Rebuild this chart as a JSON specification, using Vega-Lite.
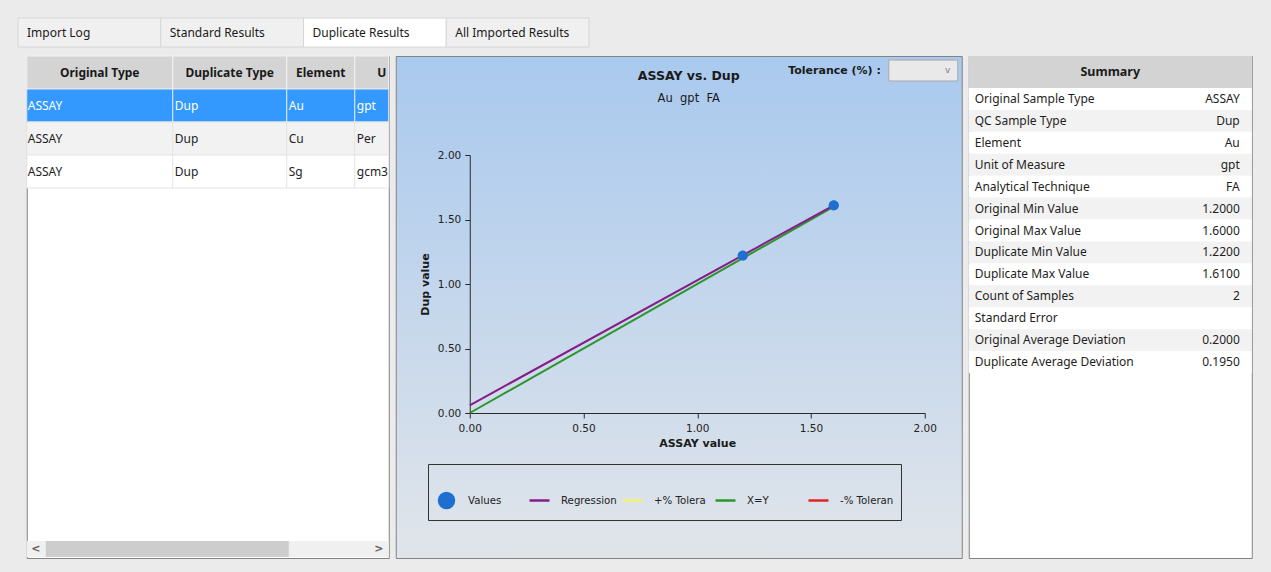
{
  "$schema": "https://vega.github.io/schema/vega-lite/v6.json",
  "background": "#ebebeb",
  "padding": {"left": 17, "top": 17, "right": 11, "bottom": 14},
  "center": true,
  "spacing": 7,
  "config": {"view": {"stroke": null}},
  "datasets": {
    "tabs": [
      {"tab": "Import Log"},
      {"tab": "Standard Results"},
      {"tab": "Duplicate Results"},
      {"tab": "All Imported Results"}
    ],
    "cells": [
      {"row": 0, "col": "Original Type", "text": "Original Type"},
      {"row": 0, "col": "Duplicate Type", "text": "Duplicate Type"},
      {"row": 0, "col": "Element", "text": "Element"},
      {"row": 0, "col": "Unit", "text": "U"},
      {"row": 1, "col": "Original Type", "text": "ASSAY"},
      {"row": 1, "col": "Duplicate Type", "text": "Dup"},
      {"row": 1, "col": "Element", "text": "Au"},
      {"row": 1, "col": "Unit", "text": "gpt"},
      {"row": 2, "col": "Original Type", "text": "ASSAY"},
      {"row": 2, "col": "Duplicate Type", "text": "Dup"},
      {"row": 2, "col": "Element", "text": "Cu"},
      {"row": 2, "col": "Unit", "text": "Per"},
      {"row": 3, "col": "Original Type", "text": "ASSAY"},
      {"row": 3, "col": "Duplicate Type", "text": "Dup"},
      {"row": 3, "col": "Element", "text": "Sg"},
      {"row": 3, "col": "Unit", "text": "gcm3"}
    ],
    "points": [
      {"series": "Values", "x": 1.2, "y": 1.22},
      {"series": "Values", "x": 1.6, "y": 1.61}
    ],
    "lines": [
      {"series": "X=Y", "x": 0, "y": 0},
      {"series": "X=Y", "x": 1.6, "y": 1.6},
      {"series": "Regression", "x": 0, "y": 0.06},
      {"series": "Regression", "x": 1.6, "y": 1.61}
    ],
    "summary": [
      {"label": "Original Sample Type", "value": "ASSAY"},
      {"label": "QC Sample Type", "value": "Dup"},
      {"label": "Element", "value": "Au"},
      {"label": "Unit of Measure", "value": "gpt"},
      {"label": "Analytical Technique", "value": "FA"},
      {"label": "Original Min Value", "value": "1.2000"},
      {"label": "Original Max Value", "value": "1.6000"},
      {"label": "Duplicate Min Value", "value": "1.2200"},
      {"label": "Duplicate Max Value", "value": "1.6100"},
      {"label": "Count of Samples", "value": "2"},
      {"label": "Standard Error", "value": ""},
      {"label": "Original Average Deviation", "value": "0.2000"},
      {"label": "Duplicate Average Deviation", "value": "0.1950"}
    ]
  },
  "vconcat": [
    {
      "width": 1243,
      "height": 29,
      "data": {"name": "tabs"},
      "encoding": {
        "x": {"field": "tab", "type": "nominal", "sort": null, "axis": null,
              "scale": {"range": [0, 571], "paddingInner": 0, "paddingOuter": 0}}
      },
      "layer": [
        {
          "mark": {"type": "rect", "stroke": "#d6d6d6", "strokeWidth": 1},
          "encoding": {
            "fill": {"condition": {"test": "datum.tab === 'Duplicate Results'", "value": "#ffffff"}, "value": "#f0f0f0"}
          }
        },
        {
          "mark": {"type": "text", "align": "left", "dx": 9, "font": "Noto Sans", "fontSize": 12, "color": "#1a1a1a"},
          "encoding": {
            "x": {"field": "tab", "type": "nominal", "sort": null, "axis": null, "bandPosition": 0,
                  "scale": {"range": [0, 571], "paddingInner": 0, "paddingOuter": 0}},
            "text": {"field": "tab"}
          }
        }
      ]
    },
    {
      "spacing": 5,
      "hconcat": [
        {
          "width": 362,
          "height": 502,
          "view": {"stroke": "#828282", "fill": "#ffffff"},
          "layer": [
            {
              "data": {"name": "cells"},
              "transform": [{"filter": "datum.col === 'Original Type'"}],
              "encoding": {
                "x": {"field": "col", "type": "nominal", "axis": null, "scale": {"range": [0, 146], "paddingInner": 0, "paddingOuter": 0}},
                "y": {"field": "row", "type": "ordinal", "axis": null, "scale": {"range": [0, 132], "paddingInner": 0, "paddingOuter": 0}}
              },
              "layer": [
                {
                  "mark": {"type": "rect", "strokeWidth": 1},
                  "encoding": {
                    "fill": {"condition": [{"test": "datum.row === 0", "value": "#d4d4d4"}, {"test": "datum.row === 1", "value": "#3399ff"}, {"test": "datum.row === 2", "value": "#f2f2f2"}], "value": "#ffffff"},
                    "stroke": {"condition": {"test": "datum.row === 0", "value": "#f2f2f2"}, "value": "#e6e6e6"}
                  }
                },
                {
                  "transform": [{"filter": "datum.row > 0"}],
                  "mark": {"type": "text", "align": "left", "dx": 1, "font": "Noto Sans", "fontSize": 12, "clip": true},
                  "encoding": {
                    "x": {"field": "col", "type": "nominal", "axis": null, "bandPosition": 0, "scale": {"range": [0, 146], "paddingInner": 0, "paddingOuter": 0}},
                    "text": {"field": "text"},
                    "color": {"condition": {"test": "datum.row === 1", "value": "#ffffff"}, "value": "#1e1e1e"}
                  }
                },
                {
                  "transform": [{"filter": "datum.row === 0"}],
                  "mark": {"type": "text", "font": "Noto Sans", "fontSize": 12, "fontWeight": "bold", "color": "#1a1a1a"},
                  "encoding": {"text": {"field": "text"}}
                }
              ]
            },
            {
              "data": {"name": "cells"},
              "transform": [{"filter": "datum.col === 'Duplicate Type'"}],
              "encoding": {
                "x": {"field": "col", "type": "nominal", "axis": null, "scale": {"range": [146, 260], "paddingInner": 0, "paddingOuter": 0}},
                "y": {"field": "row", "type": "ordinal", "axis": null, "scale": {"range": [0, 132], "paddingInner": 0, "paddingOuter": 0}}
              },
              "layer": [
                {
                  "mark": {"type": "rect", "strokeWidth": 1},
                  "encoding": {
                    "fill": {"condition": [{"test": "datum.row === 0", "value": "#d4d4d4"}, {"test": "datum.row === 1", "value": "#3399ff"}, {"test": "datum.row === 2", "value": "#f2f2f2"}], "value": "#ffffff"},
                    "stroke": {"condition": {"test": "datum.row === 0", "value": "#f2f2f2"}, "value": "#e6e6e6"}
                  }
                },
                {
                  "transform": [{"filter": "datum.row > 0"}],
                  "mark": {"type": "text", "align": "left", "dx": 2, "font": "Noto Sans", "fontSize": 12, "clip": true},
                  "encoding": {
                    "x": {"field": "col", "type": "nominal", "axis": null, "bandPosition": 0, "scale": {"range": [146, 260], "paddingInner": 0, "paddingOuter": 0}},
                    "text": {"field": "text"},
                    "color": {"condition": {"test": "datum.row === 1", "value": "#ffffff"}, "value": "#1e1e1e"}
                  }
                },
                {
                  "transform": [{"filter": "datum.row === 0"}],
                  "mark": {"type": "text", "font": "Noto Sans", "fontSize": 12, "fontWeight": "bold", "color": "#1a1a1a"},
                  "encoding": {"text": {"field": "text"}}
                }
              ]
            },
            {
              "data": {"name": "cells"},
              "transform": [{"filter": "datum.col === 'Element'"}],
              "encoding": {
                "x": {"field": "col", "type": "nominal", "axis": null, "scale": {"range": [260, 328], "paddingInner": 0, "paddingOuter": 0}},
                "y": {"field": "row", "type": "ordinal", "axis": null, "scale": {"range": [0, 132], "paddingInner": 0, "paddingOuter": 0}}
              },
              "layer": [
                {
                  "mark": {"type": "rect", "strokeWidth": 1},
                  "encoding": {
                    "fill": {"condition": [{"test": "datum.row === 0", "value": "#d4d4d4"}, {"test": "datum.row === 1", "value": "#3399ff"}, {"test": "datum.row === 2", "value": "#f2f2f2"}], "value": "#ffffff"},
                    "stroke": {"condition": {"test": "datum.row === 0", "value": "#f2f2f2"}, "value": "#e6e6e6"}
                  }
                },
                {
                  "transform": [{"filter": "datum.row > 0"}],
                  "mark": {"type": "text", "align": "left", "dx": 2, "font": "Noto Sans", "fontSize": 12, "clip": true},
                  "encoding": {
                    "x": {"field": "col", "type": "nominal", "axis": null, "bandPosition": 0, "scale": {"range": [260, 328], "paddingInner": 0, "paddingOuter": 0}},
                    "text": {"field": "text"},
                    "color": {"condition": {"test": "datum.row === 1", "value": "#ffffff"}, "value": "#1e1e1e"}
                  }
                },
                {
                  "transform": [{"filter": "datum.row === 0"}],
                  "mark": {"type": "text", "font": "Noto Sans", "fontSize": 12, "fontWeight": "bold", "color": "#1a1a1a"},
                  "encoding": {"text": {"field": "text"}}
                }
              ]
            },
            {
              "data": {"name": "cells"},
              "transform": [{"filter": "datum.col === 'Unit'"}],
              "encoding": {
                "x": {"field": "col", "type": "nominal", "axis": null, "scale": {"range": [328, 362], "paddingInner": 0, "paddingOuter": 0}},
                "y": {"field": "row", "type": "ordinal", "axis": null, "scale": {"range": [0, 132], "paddingInner": 0, "paddingOuter": 0}}
              },
              "layer": [
                {
                  "mark": {"type": "rect", "strokeWidth": 1},
                  "encoding": {
                    "fill": {"condition": [{"test": "datum.row === 0", "value": "#d4d4d4"}, {"test": "datum.row === 1", "value": "#3399ff"}, {"test": "datum.row === 2", "value": "#f2f2f2"}], "value": "#ffffff"},
                    "stroke": {"condition": {"test": "datum.row === 0", "value": "#f2f2f2"}, "value": "#e6e6e6"}
                  }
                },
                {
                  "transform": [{"filter": "datum.row > 0"}],
                  "mark": {"type": "text", "align": "left", "dx": 2, "font": "Noto Sans", "fontSize": 12, "clip": true},
                  "encoding": {
                    "x": {"field": "col", "type": "nominal", "axis": null, "bandPosition": 0, "scale": {"range": [328, 362], "paddingInner": 0, "paddingOuter": 0}},
                    "text": {"field": "text"},
                    "color": {"condition": {"test": "datum.row === 1", "value": "#ffffff"}, "value": "#1e1e1e"}
                  }
                },
                {
                  "transform": [{"filter": "datum.row === 0"}],
                  "mark": {"type": "text", "font": "Noto Sans", "fontSize": 12, "fontWeight": "bold", "color": "#1a1a1a", "dx": 10},
                  "encoding": {"text": {"field": "text"}}
                }
              ]
            },
            {
              "data": {"values": [{"visibleFrom": 0, "visibleTo": 0.75, "left": "<", "right": ">"}]},
              "encoding": {
                "y": {"datum": "scroll", "type": "nominal", "axis": null, "scale": {"range": [485, 501], "paddingInner": 0, "paddingOuter": 0}}
              },
              "layer": [
                {"mark": {"type": "rect", "fill": "#f0f0f0"}},
                {
                  "mark": {"type": "rect", "fill": "#cdcdcd"},
                  "encoding": {
                    "x": {"field": "visibleFrom", "type": "quantitative", "axis": null, "scale": {"domain": [0, 1], "range": [19, 343]}},
                    "x2": {"field": "visibleTo"}
                  }
                },
                {
                  "mark": {"type": "text", "dx": -10, "font": "DejaVu Sans", "fontSize": 11, "fontWeight": "bold", "color": "#606060"},
                  "encoding": {
                    "x": {"datum": 0, "type": "quantitative"},
                    "text": {"field": "left"}
                  }
                },
                {
                  "mark": {"type": "text", "dx": 9, "font": "DejaVu Sans", "fontSize": 11, "fontWeight": "bold", "color": "#606060"},
                  "encoding": {
                    "x": {"datum": 1, "type": "quantitative"},
                    "text": {"field": "right"}
                  }
                }
              ]
            }
          ],
          "resolve": {"scale": {"x": "independent", "y": "independent"}}
        },
        {
          "width": 566,
          "height": 502,
          "view": {
            "stroke": "#828282",
            "fill": {"gradient": "linear", "x1": 0, "y1": 0, "x2": 0, "y2": 1,
                     "stops": [{"offset": 0, "color": "#a9c9ee"}, {"offset": 1, "color": "#e1e5ea"}]}
          },
          "title": {
            "text": "ASSAY vs. Dup",
            "subtitle": "Au\u00a0\u00a0gpt\u00a0\u00a0FA",
            "anchor": "middle",
            "frame": "group",
            "offset": -48,
            "dx": 10,
            "font": "DejaVu Sans",
            "fontSize": 12.5,
            "fontWeight": "bold",
            "color": "#1a1a1a",
            "subtitleFont": "DejaVu Sans",
            "subtitleFontSize": 11.5,
            "subtitleColor": "#1a1a1a",
            "subtitlePadding": 10
          },
          "layer": [
            {
              "data": {"values": [{"label": "Tolerance (%) :"}]},
              "mark": {"type": "text", "align": "right", "baseline": "middle", "font": "DejaVu Sans", "fontSize": 11, "fontWeight": "bold", "color": "#1a1a1a"},
              "encoding": {
                "x": {"datum": 1.807, "type": "quantitative", "scale": {"domain": [0, 2], "range": [74, 529]}},
                "y": {"datum": 2.651, "type": "quantitative", "scale": {"domain": [0, 2], "range": [357, 99]}},
                "text": {"field": "label"}
              }
            },
            {
              "data": {"values": [{"chevron": "v"}]},
              "layer": [
                {
                  "mark": {"type": "rect", "fill": "#e9e9e9", "stroke": "#a9a9a9", "strokeWidth": 1},
                  "encoding": {
                    "x": {"datum": 1.842, "type": "quantitative"},
                    "x2": {"datum": 2.145},
                    "y": {"datum": 2.736, "type": "quantitative"},
                    "y2": {"datum": 2.574}
                  }
                },
                {
                  "mark": {"type": "text", "baseline": "middle", "font": "DejaVu Sans", "fontSize": 9, "color": "#808080"},
                  "encoding": {
                    "x": {"datum": 2.101, "type": "quantitative"},
                    "y": {"datum": 2.659, "type": "quantitative"},
                    "text": {"field": "chevron"}
                  }
                }
              ]
            },
            {
              "data": {"name": "lines"},
              "mark": {"type": "line", "strokeWidth": 2},
              "encoding": {
                "x": {
                  "field": "x", "type": "quantitative",
                  "scale": {"domain": [0, 2], "range": [74, 529]},
                  "axis": {
                    "title": "ASSAY value", "values": [0, 0.5, 1, 1.5, 2], "format": ".2f",
                    "offset": -145, "grid": false,
                    "domainColor": "#2b2b2b", "tickColor": "#2b2b2b", "tickSize": 5,
                    "labelFont": "DejaVu Sans", "labelFontSize": 10.5, "labelColor": "#222222", "labelPadding": 5,
                    "labelFlush": false, "labelOverlap": false,
                    "titleFont": "DejaVu Sans", "titleFontSize": 11, "titleFontWeight": "bold", "titleColor": "#1a1a1a", "titlePadding": 4
                  }
                },
                "y": {
                  "field": "y", "type": "quantitative",
                  "scale": {"domain": [0, 2], "range": [357, 99]},
                  "axis": {
                    "title": "Dup value", "values": [0, 0.5, 1, 1.5, 2], "format": ".2f",
                    "offset": -74, "grid": false,
                    "domainColor": "#2b2b2b", "tickColor": "#2b2b2b", "tickSize": 5,
                    "labelFont": "DejaVu Sans", "labelFontSize": 10.5, "labelColor": "#222222", "labelPadding": 4,
                    "labelFlush": false, "labelOverlap": false,
                    "titleFont": "DejaVu Sans", "titleFontSize": 11, "titleFontWeight": "bold", "titleColor": "#1a1a1a", "titlePadding": 7
                  }
                },
                "stroke": {
                  "field": "series", "type": "nominal", "legend": null,
                  "scale": {"domain": ["Regression", "+% Tolera", "X=Y", "-% Toleran"], "range": ["#861c86", "#f3f36a", "#2a962a", "#e52222"]}
                },
                "detail": {"field": "series"}
              }
            },
            {
              "data": {"name": "points"},
              "mark": {"type": "point", "filled": true, "size": 190, "opacity": 1},
              "encoding": {
                "x": {"field": "x", "type": "quantitative"},
                "y": {"field": "y", "type": "quantitative"},
                "color": {
                  "field": "series", "type": "nominal",
                  "scale": {"domain": ["Values", "Regression", "+% Tolera", "X=Y", "-% Toleran"],
                            "range": ["#1f6fd1", "#861c86", "#f3f36a", "#2a962a", "#e52222"]},
                  "legend": {
                    "orient": "none", "legendX": 410, "legendY": 446,
                    "direction": "horizontal", "columns": 5, "gridAlign": "all",
                    "title": " ", "titleFontSize": 13, "titlePadding": 5,
                    "padding": 7, "strokeColor": "#333333",
                    "labelFont": "DejaVu Sans", "labelFontSize": 10.2, "labelColor": "#222222",
                    "labelOffset": 10, "columnPadding": 0,
                    "symbolSize": 400, "symbolStrokeWidth": 2.5, "symbolOpacity": 1,
                    "encode": {
                      "symbols": {
                        "update": {
                          "stroke": {"scale": "color", "field": "value"},
                          "strokeWidth": {"value": 2.5}
                        }
                      }
                    }
                  }
                },
                "shape": {
                  "field": "series", "type": "nominal",
                  "scale": {"domain": ["Values", "Regression", "+% Tolera", "X=Y", "-% Toleran"],
                            "range": [
                              "M0,-0.75A0.75,0.75 0 1,1 0,0.75A0.75,0.75 0 1,1 0,-0.75Z",
                              "M-1,0H1M0,-0.75L0,-0.75M0,0.75L0,0.75",
                              "M-1,0H1M0,-0.75L0,-0.75M0,0.75L0,0.75",
                              "M-1,0H1M0,-0.75L0,-0.75M0,0.75L0,0.75",
                              "M-1,0H1M0,-0.75L0,-0.75M0,0.75L0,0.75"
                            ]}
                }
              }
            }
          ]
        },
        {
          "width": 283,
          "height": 502,
          "view": {"stroke": "#828282", "fill": "#ffffff"},
          "layer": [
            {
              "data": {"values": [{"header": "Summary"}]},
              "encoding": {
                "y": {"field": "header", "type": "nominal", "axis": null, "scale": {"range": [0, 32], "paddingInner": 0, "paddingOuter": 0}}
              },
              "layer": [
                {"mark": {"type": "rect", "fill": "#d3d3d3"}},
                {
                  "mark": {"type": "text", "font": "Noto Sans", "fontSize": 12.5, "fontWeight": "bold", "color": "#1a1a1a"},
                  "encoding": {"text": {"field": "header"}}
                }
              ]
            },
            {
              "data": {"name": "summary"},
              "encoding": {
                "y": {"field": "label", "type": "nominal", "sort": null, "axis": null, "scale": {"range": [32, 317], "paddingInner": 0, "paddingOuter": 0}}
              },
              "layer": [
                {
                  "mark": {"type": "rect"},
                  "encoding": {
                    "fill": {"condition": {"test": "indexof(['QC Sample Type','Unit of Measure','Original Min Value','Duplicate Min Value','Count of Samples','Original Average Deviation'], datum.label) >= 0", "value": "#f2f2f2"}, "value": "#ffffff"}
                  }
                },
                {
                  "mark": {"type": "text", "align": "left", "dx": 6, "font": "Noto Sans", "fontSize": 12, "color": "#1e1e1e"},
                  "encoding": {
                    "x": {"datum": 0, "type": "quantitative", "axis": null, "scale": {"domain": [0, 1], "range": [0, 283]}},
                    "text": {"field": "label"}
                  }
                },
                {
                  "mark": {"type": "text", "align": "right", "dx": -12, "font": "Noto Sans", "fontSize": 12, "color": "#1e1e1e"},
                  "encoding": {
                    "x": {"datum": 1, "type": "quantitative"},
                    "text": {"field": "value"}
                  }
                }
              ]
            }
          ],
          "resolve": {"scale": {"y": "independent"}}
        }
      ]
    }
  ]
}
